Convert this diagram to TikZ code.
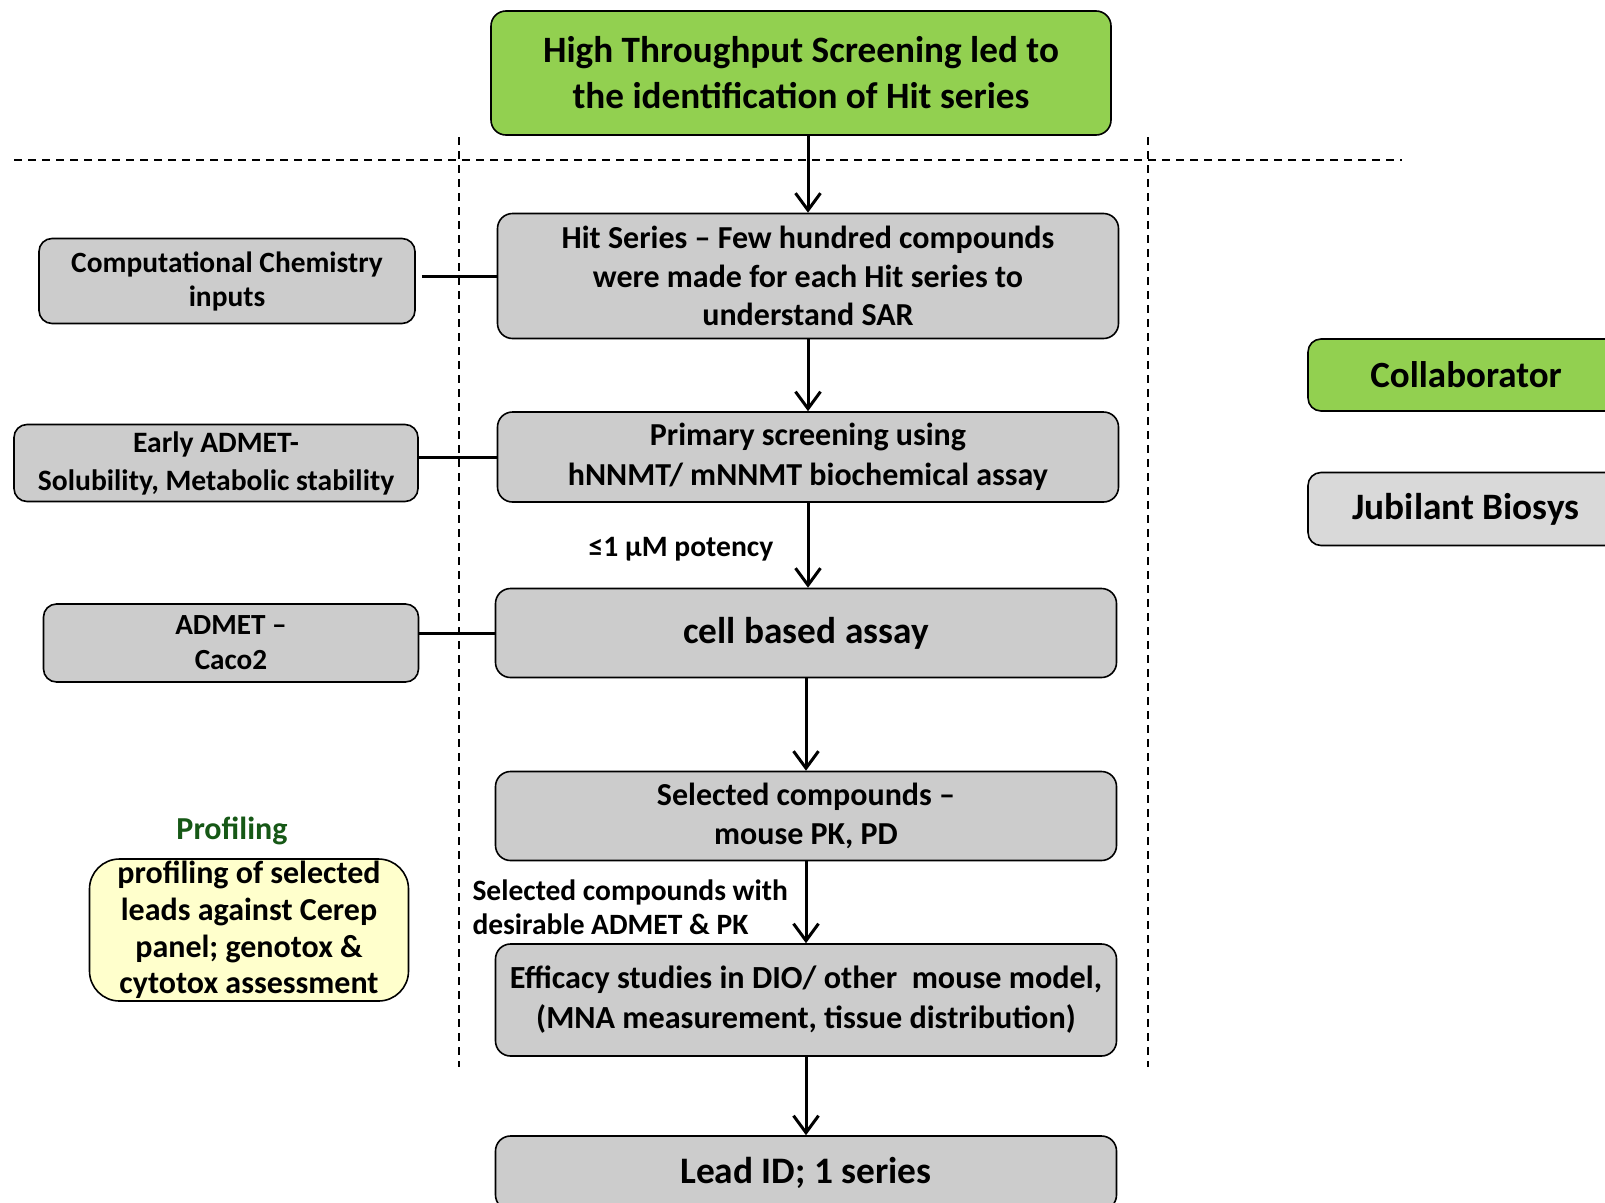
\documentclass[tikz,border=0pt]{standalone}
\usepackage{fontspec}
\setmainfont{Carlito}
\usepackage{tikz}
\usetikzlibrary{arrows,arrows.meta,positioning}

\definecolor{htsgreen}{RGB}{146,208,80}
\definecolor{stagegray}{RGB}{204,204,204}
\definecolor{softgray}{RGB}{217,217,217}
\definecolor{profyellow}{RGB}{255,255,204}
\definecolor{profgreen}{RGB}{22,88,22}

\newcommand{\fsz}[2]{\fontsize{#1}{#2}\selectfont\bfseries}

\tikzset{
  stage/.style={draw, line width=1.6pt, rounded corners=15pt, fill=stagegray,
    align=center, inner sep=0pt, minimum width=621pt},
  sidebox/.style={draw, line width=1.6pt, rounded corners=13pt, fill=stagegray,
    align=center, inner sep=0pt},
  flow/.style={line width=3pt, -{Straight Barb[length=17pt,width=25pt]}},
  link/.style={line width=3pt},
  divider/.style={line width=1.7pt, dash pattern=on 8pt off 6pt},
}

\begin{document}
\begin{tikzpicture}[x=1pt,y=-1pt]
  \useasboundingbox (0,0) rectangle (1605,1202);
  \clip (0,0) rectangle (1605,1202);

  % dashed dividers
  \draw[divider] (14,160) -- (1402,160);
  \draw[divider] (459,137) -- (459,1067);
  \draw[divider] (1148,137) -- (1148,1067);

  % main flow
  \node[stage, fill=htsgreen, minimum width=620pt, minimum height=124pt, font=\fsz{37.2}{46}] (hts) at (801,73)
    {High Throughput Screening led to\\the identification of Hit series};
  \node[stage, minimum height=125pt, font=\fsz{32}{38.5}] (hit) at (808,276)
    {Hit Series – Few hundred compounds\\were made for each Hit series to\\understand SAR};
  \node[stage, minimum height=90pt, font=\fsz{32}{39.5}] (prim) at (808,457)
    {Primary screening using\\hNNMT/ mNNMT biochemical assay};
  \node[stage, minimum height=89pt, font=\fsz{37.3}{44}] (cell) at (806,633) {cell based assay};
  \node[stage, minimum height=89pt, font=\fsz{32}{39}] (sel) at (806,816)
    {Selected compounds –\\mouse PK, PD};
  \node[stage, minimum height=112pt, font=\fsz{32.2}{40}] (eff) at (806,1000)
    {Efficacy studies in DIO/ other\ \ mouse model,\\(MNA measurement, tissue distribution)};
  \node[stage, minimum height=74pt, font=\fsz{37.4}{44}] (lead) at (806,1173) {Lead ID; 1 series};

  % side inputs
  \node[sidebox, minimum width=376pt, minimum height=85pt, font=\fsz{29.4}{34}] (comp) at (227,281)
    {Computational Chemistry\\inputs};
  \node[sidebox, minimum width=404pt, minimum height=77pt, font=\fsz{29.6}{38}] (early) at (216,463)
    {Early ADMET-\\Solubility, Metabolic stability};
  \node[sidebox, minimum width=375pt, minimum height=78pt, font=\fsz{29.2}{35}] (caco) at (231,643)
    {ADMET –\\Caco2};

  % profiling
  \node[text=profgreen, font=\fsz{32}{36}] (proftitle) at (232,831) {Profiling};
  \node[sidebox, fill=profyellow, rounded corners=30pt, minimum width=319pt, minimum height=142pt,
    font=\fsz{32}{36.8}] (prof) at (249,930)
    {profiling of selected\\leads against Cerep\\panel; genotox \&\\cytotox assessment};

  % legend
  \node[sidebox, fill=htsgreen, minimum width=316pt, minimum height=72pt, font=\fsz{37}{44}] (collab) at (1466,375)
    {Collaborator};
  \node[sidebox, fill=softgray, minimum width=316pt, minimum height=73pt, font=\fsz{37.3}{44}] (jub) at (1466,509)
    {Jubilant Biosys};

  % arrow labels
  \node[font=\fsz{29.6}{34}] (pot) at (681,549) {≤1 µM potency};
  \node[anchor=west, align=left, font=\fsz{29.5}{34}] (sellbl) at (469,907)
    {Selected compounds with\\desirable ADMET \& PK};

  % arrows
  \draw[flow] (hit.north |- hts.south) -- (hit.north);
  \draw[flow] (hit.south) -- (prim.north);
  \draw[flow] (prim.south) -- (prim.south |- cell.north);
  \draw[flow] (cell.south) -- (sel.north);
  \draw[flow] (sel.south) -- (eff.north);
  \draw[flow] (eff.south) -- (lead.north);

  % side links
  \draw[link, shorten <=6pt] (hit.west -| comp.east) -- (hit.west);
  \draw[link] (prim.west -| early.east) -- (prim.west);
  \draw[link] (cell.west -| caco.east) -- (cell.west);
\end{tikzpicture}
\end{document}
